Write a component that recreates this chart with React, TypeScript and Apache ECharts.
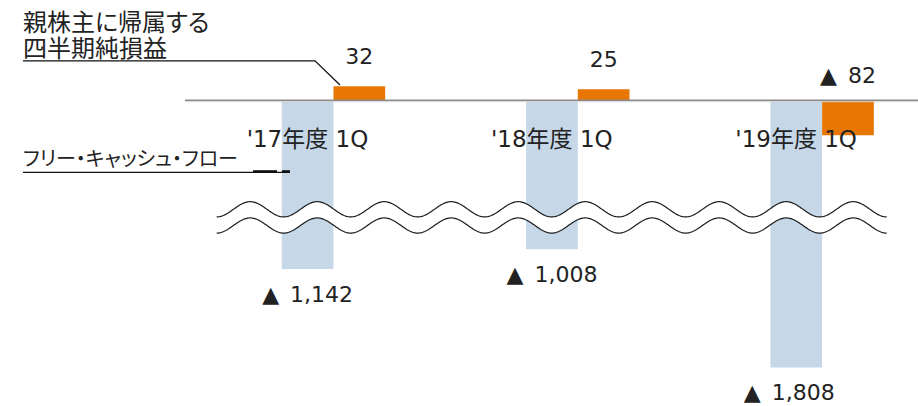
import React, { useEffect, useRef } from "react";
import * as echarts from "echarts";

const categories = ["'17年度 1Q", "'18年度 1Q", "'19年度 1Q"];
const freeCashFlow = [-1142, -1008, -1808];
const netIncome = [32, 25, -82];
const titleNetIncome = ["親株主に帰属する", "四半期純損益"];
const titleFcf = "フリー・キャッシュ・フロー";

const FONT = '"DejaVu Sans", "Noto Sans CJK JP", sans-serif';
const TEXT = "#222222";
const BLUE = "#c6d7e8";
const ORANGE = "#e87603";

function fmt(v: number): string {
  const s = Math.abs(v).toLocaleString("en-US");
  return v < 0 ? "▲\u2002" + s : s;
}

function wavePoints(x0: number, x1: number, period: number, cy: number, amp: number): number[][] {
  const pts: number[][] = [];
  for (let x = x0; x <= x1 + 0.001; x += 1) {
    pts.push([x, cy + amp * Math.cos((2 * Math.PI * (x - x0)) / period)]);
  }
  return pts;
}

const GRID_TOP = 40.8;
const GRID_HEIGHT = 355.2;
const ZERO_Y = 100;

export default function App() {
  const ref = useRef<HTMLDivElement>(null);

  useEffect(() => {
    if (!ref.current) return;
    const chart = echarts.init(ref.current, null, { renderer: "svg" });

    const topWave = wavePoints(216.7, 886.7, 67, 209.3, 7.6);
    const botWave = wavePoints(216.7, 886.7, 67, 225.5, 7.6);
    const band = topWave.concat(botWave.slice().reverse());

    const labelBase = { fontSize: 22, fontFamily: FONT, color: TEXT };

    chart.setOption({
      animation: false,
      grid: {
        left: 211.3,
        width: 733,
        top: GRID_TOP,
        height: GRID_HEIGHT,
        containLabel: false,
        outerBoundsMode: "none",
      },
      xAxis: {
        type: "category",
        data: categories,
        z: 5,
        position: "bottom",
        offset: ZERO_Y - (GRID_TOP + GRID_HEIGHT),
        axisLine: { show: false, onZero: false },
        axisTick: { show: false },
        axisLabel: {
          fontSize: 23,
          fontFamily: FONT,
          color: TEXT,
          margin: 27,
          padding: [0, 52, 0, 0],
          hideOverlap: false,
        },
      },
      yAxis: [
        { type: "value", min: -690, max: 138, show: false },
        { type: "value", min: -2000, max: 400, show: false },
      ],
      series: [
        {
          name: "フリー・キャッシュ・フロー",
          type: "bar",
          yAxisIndex: 1,
          barWidth: 51.7,
          barGap: "0%",
          itemStyle: { color: BLUE },
          data: freeCashFlow.map((v, i) => ({
            value: v,
            label: i === 2 ? { offset: [-7, 0] } : {},
          })),
          label: {
            show: true,
            position: "bottom",
            distance: 14,
            formatter: (p: any) => fmt(p.value),
            ...labelBase,
          },
        },
        {
          name: "親株主に帰属する四半期純損益",
          type: "bar",
          yAxisIndex: 0,
          barWidth: 51.7,
          barGap: "0%",
          itemStyle: { color: ORANGE },
          data: netIncome.map((v) => ({
            value: v,
            label: { distance: v < 0 ? 13.5 : 19 },
          })),
          label: {
            show: true,
            position: "top",
            formatter: (p: any) => fmt(p.value),
            ...labelBase,
          },
        },
      ],
      graphic: [
        {
          type: "line",
          z: 20,
          shape: { x1: 185, y1: 100.3, x2: 918, y2: 100.3 },
          style: { stroke: "#8c8c8c", lineWidth: 1.6 },
        },
        {
          type: "line",
          z: 20,
          shape: { x1: 185, y1: 101.7, x2: 918, y2: 101.7 },
          style: { stroke: "#d4d4d4", lineWidth: 1 },
        },
        {
          type: "polygon",
          z: 20,
          shape: { points: band },
          style: { fill: "#ffffff", stroke: null },
        },
        {
          type: "polyline",
          z: 21,
          shape: { points: topWave },
          style: { stroke: "#1a1a1a", lineWidth: 1.2, fill: null },
        },
        {
          type: "polyline",
          z: 21,
          shape: { points: botWave },
          style: { stroke: "#1a1a1a", lineWidth: 1.2, fill: null },
        },
        {
          type: "text",
          z: 21,
          x: 23,
          y: 22.5,
          style: { text: titleNetIncome[0], fontSize: 24, fontFamily: FONT, fill: TEXT, verticalAlign: "middle" },
        },
        {
          type: "text",
          z: 21,
          x: 23,
          y: 48.5,
          style: { text: titleNetIncome[1], fontSize: 24, fontFamily: FONT, fill: TEXT, verticalAlign: "middle" },
        },
        {
          type: "polyline",
          z: 21,
          shape: { points: [[23, 60.8], [315, 60.8], [340, 85]] },
          style: { stroke: "#111111", lineWidth: 1.3, fill: null },
        },
        {
          type: "text",
          z: 21,
          x: 23,
          y: 159,
          style: { text: titleFcf, fontSize: 20, fontFamily: FONT, fill: TEXT, verticalAlign: "middle" },
        },
        {
          type: "line",
          z: 21,
          shape: { x1: 23, y1: 172.3, x2: 290, y2: 172.3 },
          style: { stroke: "#111111", lineWidth: 1.3 },
        },
        {
          type: "rect",
          z: 21,
          shape: { x: 253, y: 170.2, width: 24, height: 2.6 },
          style: { fill: "#111111" },
        },
        {
          type: "rect",
          z: 21,
          shape: { x: 282, y: 170.2, width: 8, height: 2.6 },
          style: { fill: "#111111" },
        },
      ],
    });

    return () => chart.dispose();
  }, []);

  return (
    <div>
      <style>{`#root svg text { font-feature-settings: "palt" 1; }`}</style>
      <div
        ref={ref}
        style={{ position: "fixed", left: 0, top: 0, width: 918, height: 406, background: "#ffffff" }}
      />
    </div>
  );
}
